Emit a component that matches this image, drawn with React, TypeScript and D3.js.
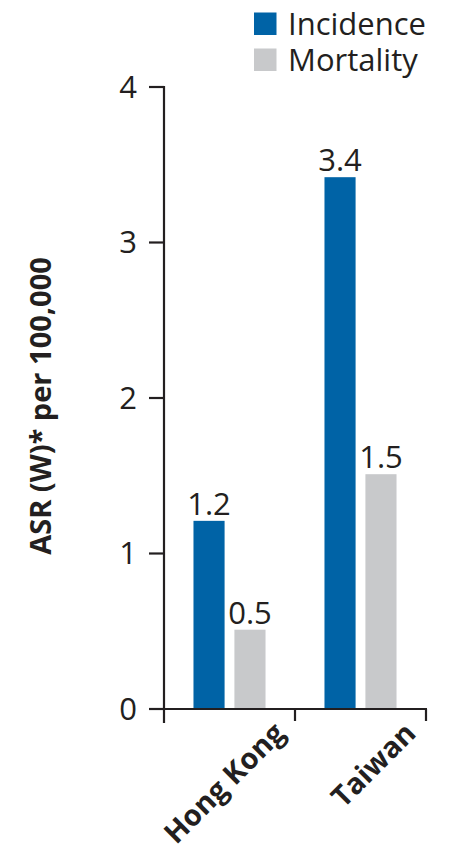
import React from "react";
import * as d3 from "d3";

const categories = ["Hong Kong", "Taiwan"];
const seriesNames = ["Incidence", "Mortality"];
const incidence = [1.21, 3.42];
const mortality = [0.51, 1.51];
const yTicks = [0, 1, 2, 3, 4];
const colors = ["#0063a6", "#c8c9cb"];

const W = 450;
const H = 854;
const INK = "#231f20";
const FONT = "'Open Sans', 'Noto Sans', sans-serif";

export default function App() {
  const y = d3.scaleLinear().domain([0, 4]).range([709, 87]);
  const x = d3.scaleBand<string>().domain(categories).range([164, 426]).paddingInner(0).paddingOuter(0);
  const xi = d3
    .scaleBand<string>()
    .domain(seriesNames)
    .range([0, x.bandwidth()])
    .paddingInner(0.24)
    .paddingOuter(0.72);
  const fmt = d3.format(".1f");
  const series = [incidence, mortality];
  const x0 = 164;
  const y0 = y(0);

  return (
    <svg width={W} height={H} style={{ position: "absolute", left: 0, top: 0, background: "#fff" }}>
      {/* legend */}
      {seriesNames.map((s, i) => (
        <g key={s}>
          <rect x={254} y={12.5 + i * 36} width={22.5} height={22.5} fill={colors[i]} />
          <text x={288} y={35 + i * 36} fontFamily={FONT} fontSize={31} fill={INK}>
            {s}
          </text>
        </g>
      ))}

      {/* bars */}
      {categories.map((c, ci) =>
        seriesNames.map((s, si) => {
          const v = series[si][ci];
          const bx = (x(c) as number) + (xi(s) as number);
          return (
            <g key={c + s}>
              <rect x={bx} y={y(v)} width={xi.bandwidth()} height={y0 - y(v)} fill={colors[si]} />
              <text
                x={bx + xi.bandwidth() / 2}
                y={y(v) - 6}
                textAnchor="middle"
                fontFamily={FONT}
                fontSize={31}
                fill={INK}
              >
                {fmt(v)}
              </text>
            </g>
          );
        })
      )}

      {/* y axis */}
      <line x1={x0} x2={x0} y1={y(4) - 1} y2={723} stroke={INK} strokeWidth={2.2} />
      {yTicks.map((t) => (
        <g key={t}>
          <line x1={149} x2={x0} y1={y(t)} y2={y(t)} stroke={INK} strokeWidth={2.2} />
          <text
            x={137}
            y={y(t)}
            dy="0.35em"
            textAnchor="end"
            fontFamily={FONT}
            fontSize={31}
            fill={INK}
          >
            {t}
          </text>
        </g>
      ))}

      {/* x axis */}
      <line x1={149} x2={x.range()[1] + 1} y1={y0} y2={y0} stroke={INK} strokeWidth={2.2} />
      {categories.map((c) => {
        const xe = (x(c) as number) + x.bandwidth();
        return <line key={c} x1={xe} x2={xe} y1={y0} y2={721} stroke={INK} strokeWidth={2.2} />;
      })}
      {categories.map((c) => {
        const cx = (x(c) as number) + x.bandwidth() / 2 + 57;
        return (
          <text
            key={c}
            transform={`translate(${cx},735) rotate(-45)`}
            textAnchor="end"
            fontFamily={FONT}
            fontWeight="bold"
            fontSize={29}
            fill={INK}
          >
            {c}
          </text>
        );
      })}

      {/* y title */}
      <text
        transform="translate(51,406) rotate(-90)"
        textAnchor="middle"
        fontFamily={FONT}
        fontWeight="bold"
        fontSize={29}
        fill={INK}
      >
        ASR (W)* per 100,000
      </text>
    </svg>
  );
}
